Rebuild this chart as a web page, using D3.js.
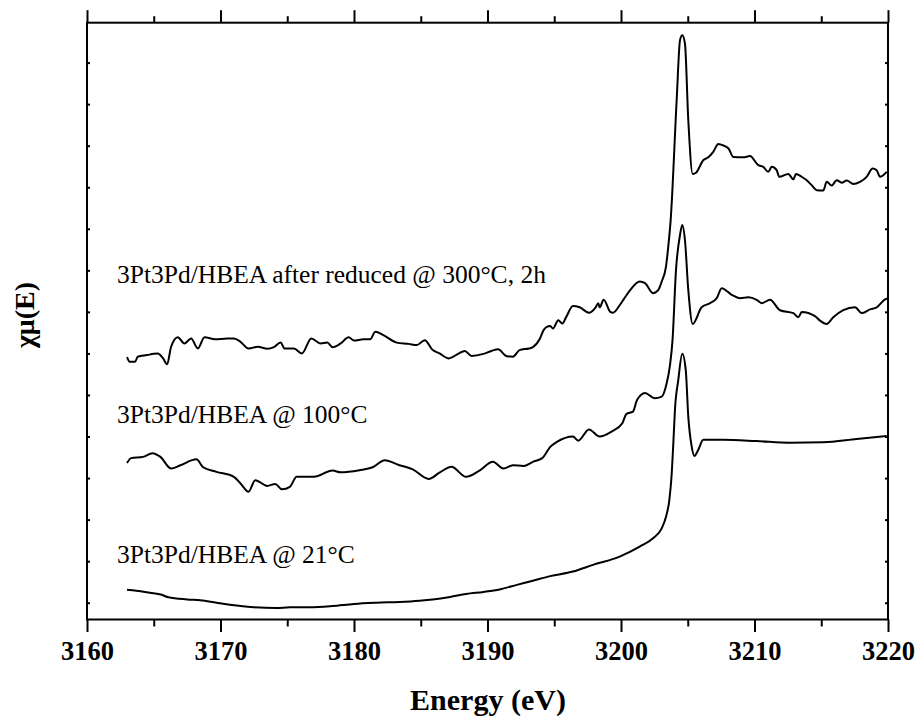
<!DOCTYPE html>
<html>
<head>
<meta charset="utf-8">
<script src="https://cdn.jsdelivr.net/npm/d3@7"></script>
<style>
  html, body { margin: 0; padding: 0; background: #fff; }
  svg { display: block; }
</style>
</head>
<body>
<svg id="chart" width="919" height="717"></svg>
<script>
// Pt L3-edge XANES spectra of 3Pt3Pd/HBEA, stacked with vertical offsets

const energyTicks = [3160, 3170, 3180, 3190, 3200, 3210, 3220];
const energyMinorTicks = [3165, 3175, 3185, 3195, 3205, 3215];
const intensityTicks = [0, 1, 2, 3, 4, 5, 6, 7, 8, 9, 10, 11, 12, 13];

const seriesLabels = [
  "3Pt3Pd/HBEA after reduced @ 300°C, 2h",
  "3Pt3Pd/HBEA @ 100°C",
  "3Pt3Pd/HBEA @ 21°C"
];

// 21 °C spectrum
const energy21 = [3163.0, 3163.7, 3164.7, 3165.6, 3166.1, 3167.5, 3168.5, 3169.7, 3171.5, 3172.5,
  3174.2, 3175.2, 3176.7, 3178.4, 3180.0, 3181.7, 3183.4, 3184.9, 3185.9, 3187.2,
  3188.4, 3189.7, 3190.9, 3192.2, 3193.4, 3194.7, 3196.4, 3197.9, 3199.9, 3201.4,
  3202.4, 3203.05, 3203.37, 3203.62, 3203.80, 3203.92, 3204.04, 3204.29, 3204.59, 3204.85,
  3205.04, 3205.30, 3205.49, 3205.79, 3206.16, 3207.66, 3210.16, 3212.66, 3215.15, 3217.66,
  3219.90];
const mu21 = [0.31, 0.29, 0.24, 0.19, 0.13, 0.08, 0.06, 0.00, -0.08, -0.11,
  -0.13, -0.11, -0.11, -0.08, -0.03, 0.00, 0.02, 0.05, 0.08, 0.14,
  0.21, 0.26, 0.32, 0.43, 0.53, 0.64, 0.75, 0.91, 1.11, 1.35,
  1.55, 1.79, 2.07, 2.47, 3.11, 3.84, 4.64, 5.36, 5.99, 5.60,
  4.48, 3.75, 3.53, 3.68, 3.92, 3.92, 3.89, 3.85, 3.86, 3.94,
  4.01];

// 100 °C spectrum
const energy100 = [3163.0, 3163.3, 3164.2, 3164.9, 3165.5, 3166.3, 3167.0, 3168.2, 3168.7, 3169.7,
  3171.0, 3171.5, 3172.1, 3172.6, 3173.5, 3174.1, 3174.6, 3175.2, 3175.7, 3177.0,
  3178.4, 3179.0, 3180.4, 3181.4, 3182.3, 3183.4, 3184.4, 3185.6, 3186.4, 3187.3,
  3188.4, 3189.4, 3190.4, 3191.2, 3191.9, 3192.7, 3193.4, 3194.1, 3194.7, 3195.2,
  3196.4, 3196.8, 3197.6, 3198.4, 3199.3, 3200.1, 3200.4, 3200.9, 3201.2, 3201.8,
  3202.5, 3203.05, 3203.42, 3203.67, 3203.86, 3204.12, 3204.42, 3204.59, 3204.79, 3205.04,
  3205.37, 3206.04, 3206.67, 3207.17, 3207.54, 3208.29, 3208.91, 3209.54, 3210.16, 3210.54,
  3211.16, 3211.91, 3212.91, 3213.28, 3213.54, 3214.53, 3214.91, 3215.41, 3215.90, 3216.65,
  3217.53, 3218.03, 3218.65, 3219.15, 3219.78, 3220.0];
const mu100 = [3.36, 3.48, 3.51, 3.60, 3.51, 3.23, 3.31, 3.45, 3.26, 3.15,
  3.03, 2.87, 2.67, 2.95, 2.81, 2.86, 2.73, 2.79, 3.03, 3.03,
  3.18, 3.14, 3.19, 3.26, 3.43, 3.31, 3.21, 2.98, 3.13, 3.27,
  3.03, 3.18, 3.39, 3.23, 3.31, 3.29, 3.39, 3.48, 3.75, 3.87,
  4.00, 3.90, 4.17, 4.00, 4.12, 4.32, 4.54, 4.60, 4.88, 5.05,
  4.92, 4.96, 5.28, 5.72, 6.32, 8.01, 8.85, 9.09, 8.73, 7.53,
  6.71, 7.11, 7.21, 7.33, 7.57, 7.41, 7.33, 7.35, 7.29, 7.21,
  7.29, 7.04, 6.97, 6.87, 7.00, 6.90, 6.79, 6.71, 6.87, 7.04,
  7.11, 6.97, 7.06, 7.11, 7.30, 7.33];

// after reduction at 300 °C for 2 h
const energy300 = [3163.0, 3163.2, 3163.6, 3163.8, 3164.5, 3165.0, 3165.3, 3165.7, 3166.0, 3166.3,
  3166.8, 3167.3, 3167.8, 3168.3, 3168.8, 3169.6, 3170.5, 3171.0, 3171.5, 3172.1,
  3172.8, 3173.5, 3174.0, 3174.5, 3174.8, 3175.5, 3176.1, 3176.8, 3177.5, 3178.0,
  3178.4, 3179.0, 3179.6, 3180.0, 3180.7, 3181.2, 3181.6, 3182.2, 3183.2, 3184.1,
  3184.7, 3185.3, 3185.9, 3186.4, 3187.1, 3187.8, 3188.3, 3188.8, 3189.7, 3190.3,
  3190.8, 3191.4, 3191.9, 3192.4, 3193.1, 3193.4, 3193.9, 3194.2, 3194.4, 3194.7,
  3194.9, 3195.3, 3195.6, 3195.9, 3196.4, 3196.9, 3197.6, 3198.1, 3198.3, 3198.4,
  3198.7, 3199.2, 3199.4, 3199.9, 3200.2, 3200.7, 3201.4, 3201.8, 3202.4, 3202.8,
  3203.05, 3203.37, 3203.54, 3203.72, 3204.17, 3204.42, 3204.59, 3204.79, 3205.04, 3205.37,
  3205.62, 3206.16, 3206.54, 3206.91, 3207.29, 3207.54, 3208.04, 3208.41, 3209.16, 3209.66,
  3210.28, 3210.66, 3211.03, 3211.29, 3211.66, 3211.86, 3212.53, 3212.91, 3213.11, 3213.54,
  3213.91, 3214.28, 3214.66, 3215.15, 3215.41, 3215.78, 3216.16, 3216.53, 3216.91, 3217.40,
  3217.90, 3218.40, 3218.85, 3219.15, 3219.40, 3219.90];
const mu300 = [5.91, 5.80, 5.80, 5.92, 5.96, 5.99, 6.00, 5.88, 5.74, 6.16,
  6.39, 6.24, 6.36, 6.12, 6.39, 6.34, 6.36, 6.36, 6.28, 6.12,
  6.16, 6.11, 6.15, 6.26, 6.12, 6.12, 6.00, 6.36, 6.24, 6.26,
  6.15, 6.24, 6.39, 6.31, 6.34, 6.34, 6.52, 6.44, 6.26, 6.23,
  6.20, 6.32, 6.08, 6.00, 5.88, 5.99, 6.06, 5.94, 5.99, 6.06,
  6.10, 5.94, 5.92, 6.08, 6.12, 6.15, 6.34, 6.56, 6.63, 6.66,
  6.60, 6.80, 6.72, 6.88, 7.14, 7.11, 6.98, 7.11, 7.21, 7.11,
  7.29, 7.00, 6.98, 7.16, 7.30, 7.53, 7.73, 7.69, 7.45, 7.53,
  7.73, 8.09, 8.57, 9.21, 12.10, 13.54, 13.66, 13.46, 11.62, 10.32,
  10.35, 10.65, 10.72, 10.85, 11.04, 11.02, 10.94, 10.73, 10.72, 10.75,
  10.53, 10.49, 10.37, 10.49, 10.41, 10.25, 10.32, 10.19, 10.32, 10.25,
  10.17, 10.05, 9.93, 9.92, 10.13, 10.04, 10.17, 10.11, 10.16, 10.08,
  10.13, 10.25, 10.45, 10.41, 10.25, 10.37];

const svg = d3.select("#chart");
const plotLeft = 87, plotRight = 888, plotTop = 22.7, plotBottom = 619.5;
const serif = "'Liberation Serif', 'Times New Roman', Times, serif";

const x = d3.scaleLinear().domain([3160, 3220]).range([plotLeft, plotRight]);
const y = d3.scaleLinear().domain([-0.404, 13.96]).range([plotBottom, plotTop]);

function styleAxis(g) {
  g.select(".domain").remove();
  g.selectAll(".tick line").attr("stroke", "#000").attr("stroke-width", 2);
}

// bottom axis: labelled majors + minors
const bottomAxis = svg.append("g").attr("transform", `translate(0,${plotBottom})`)
  .call(d3.axisBottom(x).tickValues(energyTicks).tickSize(12.5).tickFormat(d3.format("d")))
  .call(styleAxis);
bottomAxis.selectAll(".tick text")
  .attr("y", 40.5).attr("dy", 0)
  .attr("fill", "#000")
  .style("font-family", serif).style("font-weight", "bold").style("font-size", "26.5px");
svg.append("g").attr("transform", `translate(0,${plotBottom})`)
  .call(d3.axisBottom(x).tickValues(energyMinorTicks).tickSize(7).tickFormat(""))
  .call(styleAxis);

// top axis: ticks only
svg.append("g").attr("transform", `translate(0,${plotTop})`)
  .call(d3.axisTop(x).tickValues(energyTicks).tickSize(12.5).tickFormat(""))
  .call(styleAxis);
svg.append("g").attr("transform", `translate(0,${plotTop})`)
  .call(d3.axisTop(x).tickValues(energyMinorTicks).tickSize(6.5).tickFormat(""))
  .call(styleAxis);

// left and right axes: short inward ticks, no labels
svg.append("g").attr("transform", `translate(${plotLeft},0)`)
  .call(d3.axisLeft(y).tickValues(intensityTicks).tickSize(-3).tickFormat(""))
  .call(styleAxis);
svg.append("g").attr("transform", `translate(${plotRight},0)`)
  .call(d3.axisRight(y).tickValues(intensityTicks).tickSize(-3).tickFormat(""))
  .call(styleAxis);

// frame
svg.append("rect")
  .attr("x", plotLeft).attr("y", plotTop)
  .attr("width", plotRight - plotLeft).attr("height", plotBottom - plotTop)
  .attr("fill", "none").attr("stroke", "#000").attr("stroke-width", 2);

// spectra
const series = [
  { e: energy300, mu: mu300 },
  { e: energy100, mu: mu100 },
  { e: energy21, mu: mu21 }
];
const line = d3.line()
  .x(d => x(d[0]))
  .y(d => y(d[1]))
  .curve(d3.curveMonotoneX);

svg.append("g").selectAll("path")
  .data(series)
  .join("path")
  .attr("d", s => line(s.e.map((v, i) => [v, s.mu[i]])))
  .attr("fill", "none")
  .attr("stroke", "#000")
  .attr("stroke-width", 2)
  .attr("stroke-linejoin", "round");

// series annotations
const labelBaselines = [283.3, 423.3, 563.3];
svg.append("g").selectAll("text")
  .data(seriesLabels)
  .join("text")
  .attr("x", 117)
  .attr("y", (d, i) => labelBaselines[i])
  .attr("fill", "#000")
  .style("font-family", serif)
  .style("font-size", "25.5px")
  .text(d => d);

// axis titles
svg.append("text")
  .attr("x", (plotLeft + plotRight) / 2 + 0.5)
  .attr("y", 710)
  .attr("text-anchor", "middle")
  .attr("fill", "#000")
  .style("font-family", serif).style("font-weight", "bold").style("font-size", "30px")
  .text("Energy (eV)");

svg.append("text")
  .attr("transform", `translate(34,315) rotate(-90)`)
  .attr("text-anchor", "middle")
  .attr("fill", "#000")
  .style("font-family", serif).style("font-weight", "bold").style("font-size", "28px")
  .text("χμ(E)");
</script>
</body>
</html>
